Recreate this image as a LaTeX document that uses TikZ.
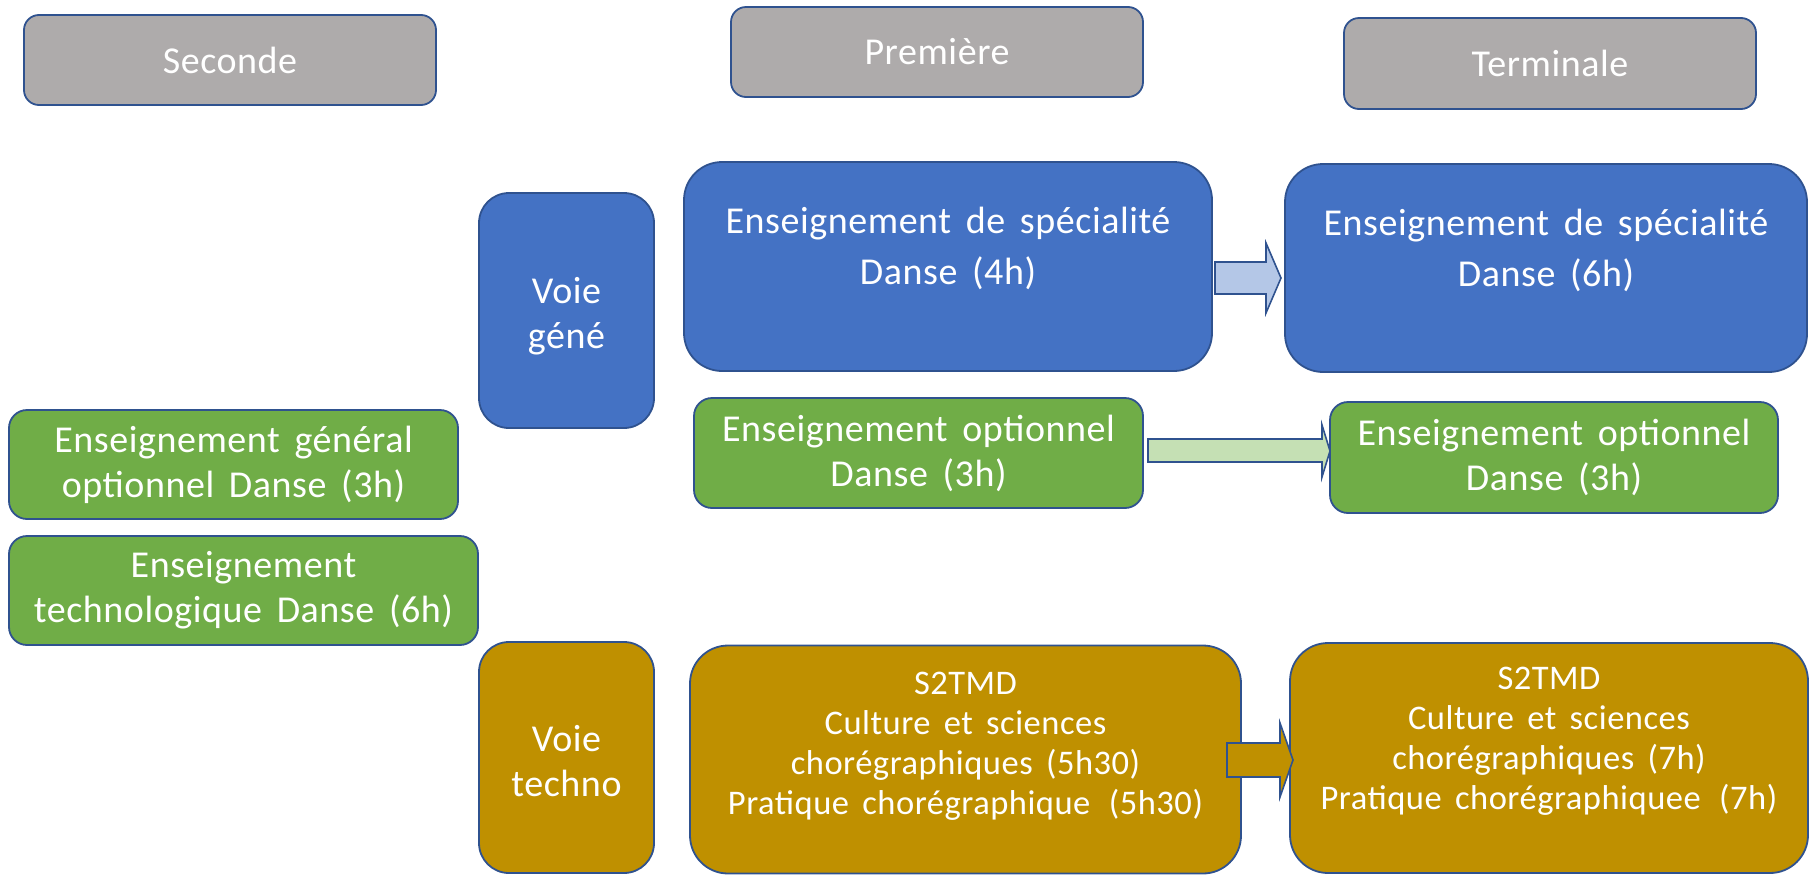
\documentclass[tikz,border=0pt]{standalone}
\usepackage{fontspec}
\setmainfont{Carlito}[LetterSpace=1.5, WordSpace=1.6]
\definecolor{hdr}{HTML}{AEABAB}
\definecolor{bleu}{HTML}{4472C4}
\definecolor{vert}{HTML}{70AD47}
\definecolor{ocre}{HTML}{BF9000}
\definecolor{bord}{HTML}{2F528F}
\definecolor{bleuclair}{HTML}{B4C7E7}
\definecolor{vertclair}{HTML}{C5E0B4}
\tikzset{
  box/.style={draw=bord, line width=1.8pt, inner sep=0pt, outer sep=0pt, text=white, align=center},
  txt/.style={text=white, align=center, inner sep=0pt},
  fnt/.style={font=\fontsize{38}{45}\selectfont},
  fntbig/.style={font=\fontsize{38}{51}\selectfont},
  fnts/.style={font=\fontsize{34.5}{40}\selectfont},
  blockarrow/.style={draw=bord, line width=1.6pt, line join=miter},
}
\begin{document}
\begin{tikzpicture}[x=1pt,y=-1pt]
\useasboundingbox (0,0) rectangle (1810,876);
% headers
\node[box, fnt, fill=hdr, rounded corners=15pt, minimum width=412pt, minimum height=90pt] (sec) at (230,60) {Seconde};
\node[box, fnt, fill=hdr, rounded corners=15pt, minimum width=412pt, minimum height=90pt] (prem) at (937,52) {Première};
\node[box, fnt, fill=hdr, rounded corners=15pt, minimum width=412pt, minimum height=91pt] (term) at (1550,63.5) {Terminale};
% voie generale
\node[box, fill=bleu, rounded corners=30pt, minimum width=175pt, minimum height=235pt] (vg) at (566.5,310.5) {};
\node[txt, fnt] (vgt) at (566.5,316) {Voie\\géné};
\node[box, fill=bleu, rounded corners=38pt, minimum width=528pt, minimum height=209pt] (spea) at (948,266.5) {};
\node[txt, fntbig] (speat) at (948,248) {Enseignement de spécialité\\Danse (4h)};
\node[box, fill=bleu, rounded corners=38pt, minimum width=522pt, minimum height=208pt] (speb) at (1546,268) {};
\node[txt, fntbig] (spebt) at (1546,250) {Enseignement de spécialité\\Danse (6h)};
% green
\node[box, fnt, fill=vert, rounded corners=18pt, minimum width=449pt, minimum height=109pt] (gen2) at (233.5,464.5) {Enseignement général\\optionnel Danse (3h)};
\node[box, fnt, fill=vert, rounded corners=18pt, minimum width=469pt, minimum height=109pt] (tec2) at (243.5,590.5) {Enseignement\\technologique Danse (6h)};
\node[box, fnt, fill=vert, rounded corners=18pt, minimum width=449pt, minimum height=110pt] (opt1) at (918.5,453) {Enseignement optionnel\\Danse (3h)};
\node[box, fnt, fill=vert, rounded corners=18pt, minimum width=448pt, minimum height=111pt] (optt) at (1554,457.5) {Enseignement optionnel\\Danse (3h)};
% voie techno
\node[box, fill=ocre, rounded corners=30pt, minimum width=175pt, minimum height=231pt] (vt) at (566.5,757.5) {};
\node[txt, fnt] (vtt) at (566.5,761) {Voie\\techno};
\node[box, fill=ocre, rounded corners=38pt, minimum width=551pt, minimum height=228pt] (sa) at (965.5,759.5) {};
\node[txt, fnts] (sat) at (965.5,746) {S2TMD\\Culture et sciences\\chorégraphiques (5h30)\\Pratique chorégraphique \hspace{0.15em}(5h30)};
\node[box, fill=ocre, rounded corners=38pt, minimum width=518pt, minimum height=230pt] (sb) at (1549,758) {};
\node[txt, fnts] (sbt) at (1549,741) {S2TMD\\Culture et sciences\\chorégraphiques (7h)\\Pratique chorégraphiquee \hspace{0.15em}(7h)};
% block arrows
\draw[blockarrow, fill=bleuclair] (1215,262) -- (1266,262) -- (1266,243) -- (1281,278) -- (1266,313) -- (1266,294) -- (1215,294) -- cycle;
\draw[blockarrow, fill=vertclair] (1148,439) -- (1322,439) -- (1322,425) -- (1330,451) -- (1322,477) -- (1322,462) -- (1148,462) -- cycle;
\draw[blockarrow, fill=ocre] (1227,743) -- (1280,743) -- (1280,723) -- (1293,760) -- (1280,797) -- (1280,777) -- (1227,777) -- cycle;
\end{tikzpicture}
\end{document}
